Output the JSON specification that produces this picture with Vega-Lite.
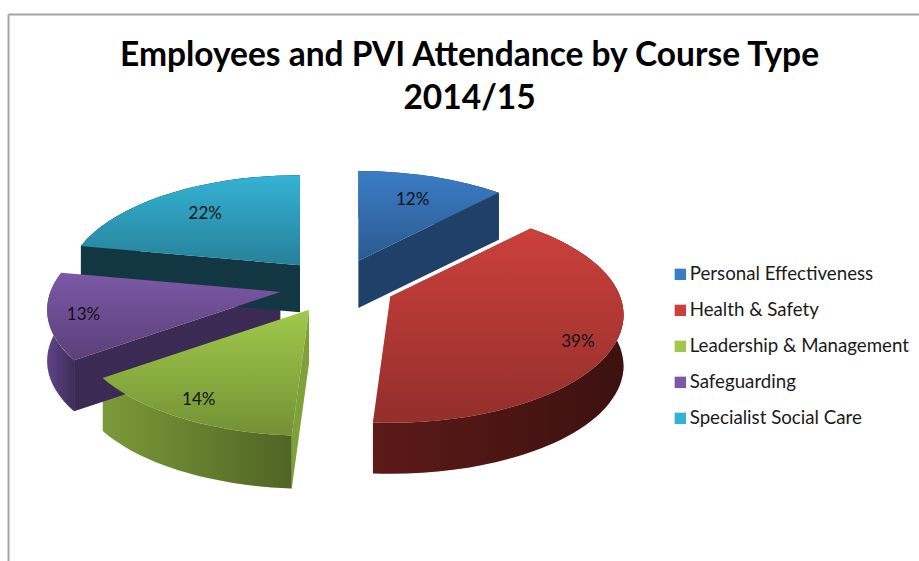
{
"$schema":"https://vega.github.io/schema/vega-lite/v6.json",
"width":911,"height":547,"autosize":"none","padding":{"left":8,"top":14,"right":0,"bottom":0},
"background":"white",
"view":{"stroke":null,"fill":null},
"title":{"text":["Employees and PVI Attendance by Course Type","2014/15"],"anchor":"middle","frame":"group","font":"Lato","fontWeight":"bold","fontSize":33.5,"lineHeight":43,"color":"#000000","dx":6,"dy":132,"baseline":"alphabetic"},
"data":{"values":[
{"course":"Personal Effectiveness","share":12},
{"course":"Health & Safety","share":39},
{"course":"Leadership & Management","share":14},
{"course":"Safeguarding","share":13},
{"course":"Specialist Social Care","share":22}
]},
"transform":[
{"window":[{"op":"sum","field":"share","as":"cum"}]},
{"calculate":"2*PI*(datum.cum-datum.share)/100","as":"t0"},
{"calculate":"2*PI*datum.cum/100","as":"t1"},
{"calculate":"(datum.t0+datum.t1)/2","as":"mid"},
{"calculate":"sin(datum.mid)","as":"ex"},
{"calculate":"-cos(datum.mid)","as":"ey"},
{"calculate":"round(50-3.5*cos(datum.mid))","as":"d"},
{"calculate":"round(2300*sin(datum.t0)/(1+0.167*cos(datum.t0)))/10","as":"x0"},
{"calculate":"round(-1050*cos(datum.t0)/(1+0.167*cos(datum.t0)))/10","as":"y0"},
{"calculate":"round(2300*sin(datum.t1)/(1+0.167*cos(datum.t1)))/10","as":"x1"},
{"calculate":"round(-1050*cos(datum.t1)/(1+0.167*cos(datum.t1)))/10","as":"y1"},
{"calculate":"datum.course==='Personal Effectiveness'?datum.x1:datum.x0","as":"cx"},
{"calculate":"datum.course==='Personal Effectiveness'?datum.y1:datum.y0","as":"cy"},
{"calculate":"'M0,0L'+datum.x0+','+datum.y0+'A233,108 0 0 1 '+datum.x1+','+datum.y1+'Z'","as":"pathTop"},
{"calculate":"'M'+datum.x0+','+datum.y0+'A233,108 0 0 1 '+datum.x1+','+datum.y1+'L'+datum.x1+','+(datum.y1+datum.d)+'A233,108 0 0 0 '+datum.x0+','+(datum.y0+datum.d)+'Z'","as":"pathOuter"},
{"calculate":"'M0,0L'+datum.cx+','+datum.cy+'L'+datum.cx+','+(datum.cy+datum.d)+'L0,'+datum.d+'Z'","as":"pathCut"},
{"calculate":"{'Personal Effectiveness':0.74,'Health & Safety':0.83,'Leadership & Management':0.85,'Safeguarding':0.845,'Specialist Social Care':0.73}[datum.course]","as":"lfx"},
{"calculate":"{'Personal Effectiveness':0.75,'Health & Safety':0.98,'Leadership & Management':0.82,'Safeguarding':0.89,'Specialist Social Care':0.74}[datum.course]","as":"lfy"},
{"calculate":"datum.ex+datum.lfx*230*sin(datum.mid)/(1+0.167*cos(datum.mid))/58","as":"tx"},
{"calculate":"datum.ey-datum.lfy*105*cos(datum.mid)/(1+0.167*cos(datum.mid))/27","as":"ty"},
{"calculate":"datum.share+'%'","as":"label"}
],
"layer":[
{"mark":{"type":"point","filled":true,"size":4,"opacity":1,"strokeWidth":0},
"encoding":{
"x":{"field":"ex","type":"quantitative","axis":{"orient":"top","title":null,"domain":true,"domainColor":"#a3a3a3","domainWidth":2,"ticks":false,"labels":false,"grid":false},"scale":{"domain":[-5.672,10.034],"range":[0,911],"zero":false,"nice":false}},
"y":{"field":"ey","type":"quantitative","axis":{"orient":"left","title":null,"domain":true,"domainColor":"#a3a3a3","domainWidth":2,"ticks":false,"labels":false,"grid":false},"scale":{"domain":[-10.074,10.185],"range":[0,547],"zero":false,"nice":false}},
"shape":{"field":"pathOuter","type":"nominal","scale":null,"legend":null},
"color":{"field":"course","type":"nominal","sort":null,"legend":null,"scale":{"domain":["Personal Effectiveness","Health & Safety","Leadership & Management","Safeguarding","Specialist Social Care"],"range":["#234a76","#5c1a18","#7b9a38","#5f4488","#123742"]}}}},
{"mark":{"type":"point","filled":true,"size":4,"opacity":1,"strokeWidth":0,"fill":{"gradient":"linear","x1":0,"y1":0,"x2":1,"y2":0,"stops":[{"offset":0,"color":"rgba(0,0,0,0)"},{"offset":1,"color":"rgba(0,0,0,0.35)"}]}},
"encoding":{
"x":{"field":"ex","type":"quantitative"},"y":{"field":"ey","type":"quantitative"},
"shape":{"field":"pathOuter","type":"nominal","scale":null,"legend":null}}},
{"mark":{"type":"point","filled":true,"size":4,"opacity":1,"strokeWidth":0},
"encoding":{
"x":{"field":"ex","type":"quantitative"},"y":{"field":"ey","type":"quantitative"},
"shape":{"field":"pathCut","type":"nominal","scale":null,"legend":null},
"color":{"field":"course","type":"nominal","sort":null,"legend":null,"scale":{"domain":["Personal Effectiveness","Health & Safety","Leadership & Management","Safeguarding","Specialist Social Care"],"range":["#1f4068","#8f2a28","#80a03a","#3b2a54","#123742"]}}}},
{"mark":{"type":"point","filled":true,"size":4,"opacity":1,"strokeWidth":0},
"encoding":{
"x":{"field":"ex","type":"quantitative"},"y":{"field":"ey","type":"quantitative"},
"shape":{"field":"pathTop","type":"nominal","scale":null,"legend":null},
"color":{"field":"course","type":"nominal","sort":null,
"legend":{"title":null,"orient":"none","legendX":663,"legendY":251,"symbolType":"square","symbolSize":130,"symbolStrokeWidth":0,"symbolOpacity":1,"labelFont":"Lato","labelFontSize":18.7,"labelColor":"#1a1a1a","labelLimit":300,"labelOffset":0,"rowPadding":16,"padding":0},
"scale":{"domain":["Personal Effectiveness","Health & Safety","Leadership & Management","Safeguarding","Specialist Social Care"],"range":["#3b7cc6","#cb403c","#a0c94a","#7c58a6","#34b2d4"]}}}},
{"mark":{"type":"point","filled":true,"size":4,"opacity":1,"strokeWidth":0,"fill":{"gradient":"linear","x1":0,"y1":0,"x2":0,"y2":1,"stops":[{"offset":0,"color":"rgba(0,0,0,0)"},{"offset":1,"color":"rgba(0,0,0,0.28)"}]}},
"encoding":{
"x":{"field":"ex","type":"quantitative"},"y":{"field":"ey","type":"quantitative"},
"shape":{"field":"pathTop","type":"nominal","scale":null,"legend":null}}},
{"mark":{"type":"text","font":"Lato","fontSize":17,"color":"#111111","align":"center","baseline":"middle","dy":2},
"encoding":{"x":{"field":"tx","type":"quantitative"},
"y":{"field":"ty","type":"quantitative"},
"text":{"field":"label","type":"nominal"}}}
],
"resolve":{"scale":{"color":"independent"}}
}
